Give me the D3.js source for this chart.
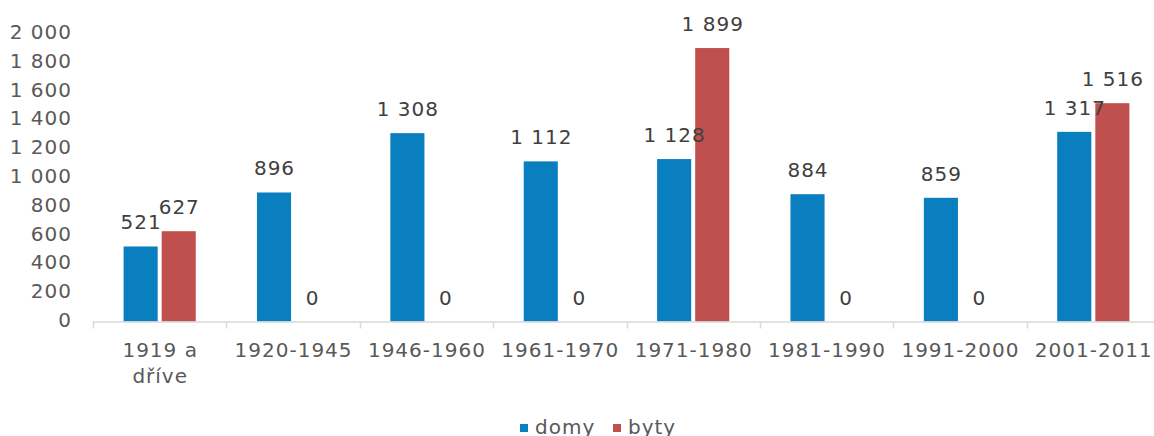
<!DOCTYPE html>
<html>
<head>
  <meta charset="utf-8">
  <title>domy a byty</title>
  <script src="https://cdn.jsdelivr.net/npm/d3@7"></script>
  <style>
    body { margin: 0; background: #fff; }
    text { font-family: "DejaVu Sans", Verdana, sans-serif; letter-spacing: 1px; }
  </style>
</head>
<body>
  <svg width="1154" height="436" id="mainsvg"></svg>
  <script>
    // data
    const categories = ['1919 a dříve', '1920-1945', '1946-1960', '1961-1970', '1971-1980', '1981-1990', '1991-2000', '2001-2011'];
    const domy = [521, 896, 1308, 1112, 1128, 884, 859, 1317];
    const byty = [627, 0, 0, 0, 1899, 0, 0, 1516];
    const seriesNames = ['domy', 'byty'];
    const seriesColors = ['#0A7FC0', '#C0504D'];
    const yTicks = [0, 200, 400, 600, 800, 1000, 1200, 1400, 1600, 1800, 2000];

    const svg = d3.select('svg');
    const locale = d3.formatLocale({decimal: ',', thousands: '\u00a0', grouping: [3], currency: ['', '']});
    const fmt = locale.format(',d');

    const xScale = d3.scaleBand().domain(categories).range([93, 1160]);
    const xInner = d3.scaleBand().domain(seriesNames).range([-38, 38]).paddingInner(0.105).paddingOuter(0.05);
    const yScale = d3.scaleLinear().domain([0, 2000]).range([321.5, 33.5]);

    // y axis labels (no line)
    svg.append('g').selectAll('text').data(yTicks).join('text')
      .attr('x', 72).attr('y', d => yScale(d) - 1.5).attr('dy', '0.35em')
      .attr('text-anchor', 'end').attr('font-size', 20).attr('fill', '#595959')
      .text(d => fmt(d));

    // bars
    const rows = categories.map((c, i) => ({cat: c, values: [domy[i], byty[i]]}));
    const groups = svg.append('g').selectAll('g').data(rows).join('g')
      .attr('transform', d => `translate(${xScale(d.cat) + xScale.bandwidth() / 2},0)`);
    groups.selectAll('rect').data(d => d.values.map((v, j) => ({name: seriesNames[j], v: v, j: j}))).join('rect')
      .attr('x', d => xInner(d.name)).attr('width', xInner.bandwidth())
      .attr('y', d => yScale(d.v)).attr('height', d => yScale(0) - yScale(d.v))
      .attr('fill', d => seriesColors[d.j]);
    groups.selectAll('text').data(d => d.values.map((v, j) => ({name: seriesNames[j], v: v}))).join('text')
      .attr('x', d => xInner(d.name) + xInner.bandwidth() / 2 + 0.5)
      .attr('y', d => yScale(d.v) - 17)
      .attr('text-anchor', 'middle').attr('font-size', 20).attr('fill', '#404040')
      .text(d => fmt(d.v));

    // x axis line and ticks at band edges
    const axisG = svg.append('g');
    axisG.append('line').attr('x1', xScale.range()[0]).attr('x2', xScale.range()[1])
      .attr('y1', yScale(0) + 0.5).attr('y2', yScale(0) + 0.5)
      .attr('stroke', '#D9D9D9').attr('stroke-width', 1.5);
    const edges = categories.map(c => xScale(c)).concat([xScale.range()[1]]);
    axisG.selectAll('.tk').data(edges).join('line').attr('class', 'tk')
      .attr('x1', d => Math.round(d) + 0.5).attr('x2', d => Math.round(d) + 0.5)
      .attr('y1', yScale(0)).attr('y2', yScale(0) + 7)
      .attr('stroke', '#D9D9D9').attr('stroke-width', 1.5);

    // category labels, wrapped when too wide
    const catText = axisG.selectAll('.cat').data(categories).join('text').attr('class', 'cat')
      .attr('x', d => xScale(d) + xScale.bandwidth() / 2 + 0.5).attr('y', 350).attr('dy', '0.35em')
      .attr('text-anchor', 'middle').attr('font-size', 20).attr('fill', '#595959');
    catText.each(function(d) {
      const t = d3.select(this);
      const words = d.split(' ');
      let line = [];
      let lines = [];
      const probe = t.append('tspan');
      words.forEach(w => {
        probe.text(line.concat([w]).join(' '));
        if (probe.node().getComputedTextLength() > 126 && line.length) {
          lines.push(line.join(' '));
          line = [w];
        } else {
          line.push(w);
        }
      });
      lines.push(line.join(' '));
      probe.remove();
      lines.forEach((l, k) => {
        t.append('tspan').attr('x', t.attr('x')).attr('dy', k === 0 ? '0.35em' : 26).text(l);
      });
    });

    // legend
    const legend = svg.append('g').attr('transform', 'translate(520,427)');
    const items = [{name: 'domy', x: 0}, {name: 'byty', x: 93}];
    items.forEach((it, i) => {
      const g = legend.append('g').attr('transform', `translate(${it.x},0)`);
      g.append('rect').attr('x', 0).attr('y', -3).attr('width', 8).attr('height', 8).attr('fill', seriesColors[i]);
      g.append('text').attr('x', 15).attr('y', 0).attr('dy', '0.35em')
        .attr('font-size', 20).attr('fill', '#595959').text(it.name);
    });
  </script>
</body>
</html>
